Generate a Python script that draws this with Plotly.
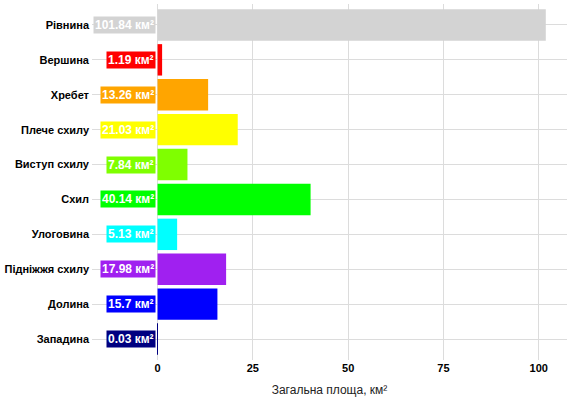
import plotly.graph_objects as go

# Landform classes and their total area (km2)
classes = ["Рівнина", "Вершина", "Хребет", "Плече схилу", "Виступ схилу",
           "Схил", "Улоговина", "Підніжжя схилу", "Долина", "Западина"]
areas = [101.84, 1.19, 13.26, 21.03, 7.84, 40.14, 5.13, 17.98, 15.7, 0.03]
colors = ["#D3D3D3", "#FF0000", "#FFA500", "#FFFF00", "#7FFF00",
          "#00FF00", "#00FFFF", "#A020F0", "#0000FF", "#000080"]
x_ticks = [0, 25, 50, 75, 100]

fig = go.Figure()

fig.add_trace(go.Bar(
    x=areas,
    y=classes,
    orientation="h",
    width=0.9,
    marker=dict(color=colors, line=dict(width=0)),
    hoverinfo="x+y",
    showlegend=False,
))

# value labels sitting just left of zero, coloured like the bars
for name, val, col in zip(classes, areas, colors):
    fig.add_annotation(
        x=0, y=name, xref="x", yref="y",
        text="<b>%s км²</b>" % val,
        xanchor="right", yanchor="middle", xshift=-2,
        showarrow=False,
        bgcolor=col, borderpad=1,
        font=dict(family="Liberation Sans, Arial", size=12, color="white"),
    )

fig.update_layout(
    width=571, height=404,
    margin=dict(l=92, r=4, t=4, b=44),
    plot_bgcolor="white",
    paper_bgcolor="white",
    font=dict(family="Liberation Sans, Arial", size=11, color="black"),
    xaxis=dict(
        range=[-17.2, 107.4],
        tickvals=x_ticks,
        tickfont=dict(size=11, color="black", weight="bold"),
        showgrid=True, gridcolor="#DCDCDC", gridwidth=1,
        zeroline=False, showline=False, ticks="",
        automargin=False,
        title=dict(text="Загальна площа, км²",
                   font=dict(size=12, color="#222222"), standoff=12),
    ),
    yaxis=dict(
        range=[9.6, -0.6],
        tickfont=dict(size=11, color="black", weight="bold"),
        showgrid=True, gridcolor="#DCDCDC", gridwidth=1,
        zeroline=False, showline=False, ticks="",
        automargin=False,
        ticklabelstandoff=2,
    ),
)

# drop the browser's default body margin so the figure sits at 0,0
fig.write_html("out.html", config={"displayModeBar": False},
               post_script="document.body.style.margin = '0px';")
